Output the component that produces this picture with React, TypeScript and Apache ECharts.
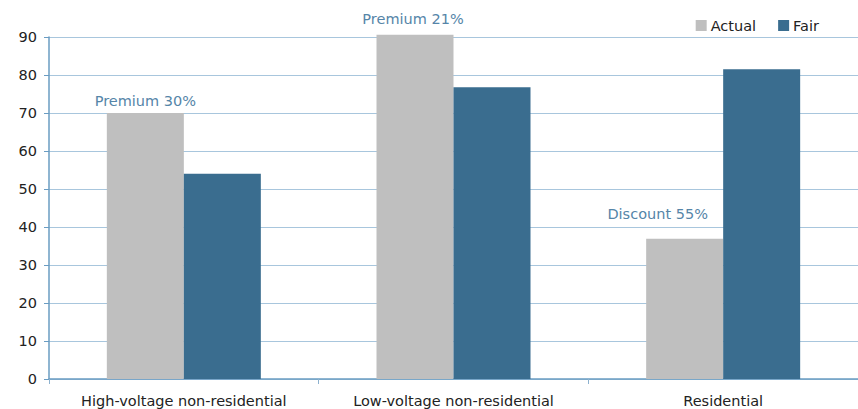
import React, { useEffect, useRef } from "react";
import * as echarts from "echarts";

const categories = ["High-voltage non-residential", "Low-voltage non-residential", "Residential"];
const actualValues = [70, 90.6, 36.9];
const fairValues = [54, 76.8, 81.5];
const annotations = ["Premium 30%", "Premium 21%", "Discount 55%"];
const yTicks = [0, 10, 20, 30, 40, 50, 60, 70, 80, 90];

const FONT = "DejaVu Sans";
const FS = 14.5;
const annotationOffsets: [number, number][] = [
  [0, 0],
  [-2, -3],
  [-27, -12],
];

export default function App() {
  const ref = useRef<HTMLDivElement>(null);
  useEffect(() => {
    if (!ref.current) return;
    const chart = echarts.init(ref.current, undefined, { renderer: "svg" });
    chart.setOption({
      animation: false,
      textStyle: { fontFamily: FONT },
      legend: {
        data: ["Actual", "Fair"],
        right: 34,
        top: 13,
        itemWidth: 11,
        itemHeight: 11,
        itemGap: 22,
        icon: "rect",
        textStyle: { fontFamily: FONT, fontSize: FS, color: "#222", padding: [0, 0, 0, -1] },
      },
      grid: { left: 49, top: 37, width: 813, bottom: 30, containLabel: false },
      xAxis: {
        type: "category",
        data: categories,
        axisLine: { lineStyle: { color: "#6a9cc2", width: 1.5 } },
        axisTick: { show: true, length: 5, lineStyle: { color: "#8db2cf" } },
        axisLabel: { fontFamily: FONT, fontSize: FS, color: "#222", margin: 14 },
      },
      yAxis: {
        type: "value",
        min: yTicks[0],
        max: yTicks[yTicks.length - 1],
        interval: 10,
        axisLine: { show: true, lineStyle: { color: "#6a9cc2", width: 1.5 } },
        axisTick: { show: true, length: 5, lineStyle: { color: "#6a9cc2" } },
        axisLabel: { fontFamily: FONT, fontSize: FS, color: "#222", margin: 12 },
        splitLine: { lineStyle: { color: "#a8c6dd", width: 1 } },
      },
      series: [
        {
          name: "Actual",
          type: "bar",
          clip: false,
          barWidth: 77,
          barGap: "0%",
          itemStyle: { color: "#bfbfbf" },
          data: actualValues.map((v, i) => ({
            value: v,
            label: {
              show: true,
              position: "top",
              formatter: annotations[i],
              offset: annotationOffsets[i],
              fontFamily: FONT,
              fontSize: FS,
              color: "#5585a8",
            },
          })),
        },
        {
          name: "Fair",
          type: "bar",
          clip: false,
          barWidth: 77,
          barGap: "0%",
          itemStyle: { color: "#3a6d8f" },
          data: fairValues,
        },
      ],
    });
    return () => chart.dispose();
  }, []);
  return <div ref={ref} style={{ width: 858, height: 409, position: "absolute", left: 0, top: 0 }} />;
}
